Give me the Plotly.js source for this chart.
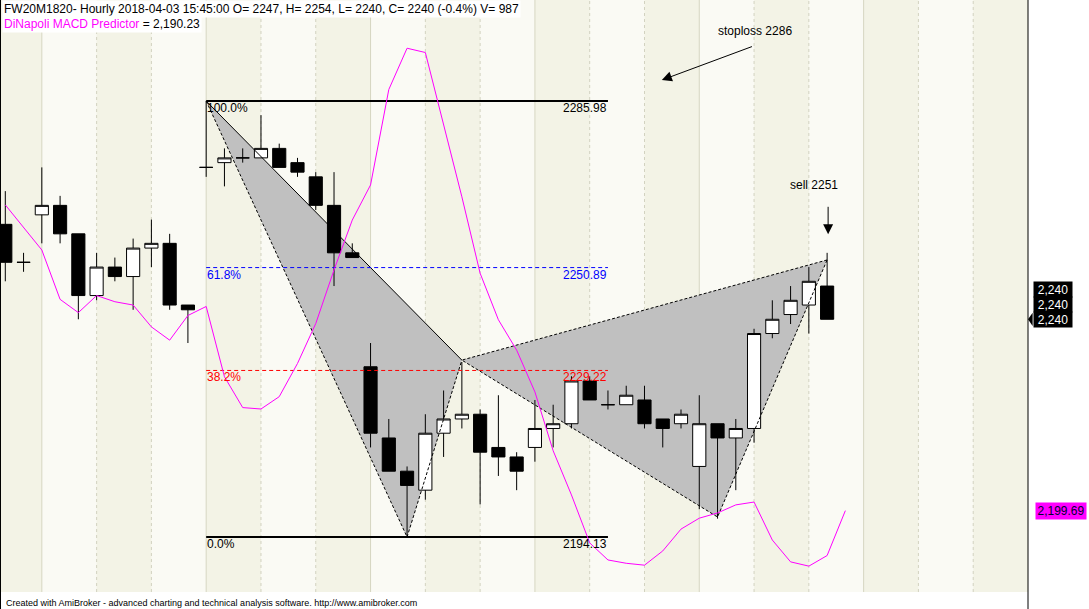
<!DOCTYPE html>
<html>
<head>
<meta charset="utf-8">
<script src="https://cdn.plot.ly/plotly-3.0.1.min.js"></script>
<style>html,body{margin:0;padding:0;background:#fff;}#chart{width:1089px;height:609px;}</style>
</head>
<body>
<div id="chart"></div>
<script>
// ---- data (hourly bars, index 0..45) ----
const opens  = [2260,2252,2262,2264,2258,2245,2251,2249,2255,2256,2243,2272,2273,2274,2274,2276,2273,2270,2264,2254,2230,2215,2208,2204,2216,2219,2220,2213,2211,2213,2217,2218,2227,2222,2222,2223,2219,2218,2209,2218,2215,2217,2237,2241,2243,2247];
const highs  = [2267,2254,2272,2266,2258,2254,2253,2257,2261,2258,2243,2286,2276,2276,2283,2277,2274,2271,2271,2256,2235,2219,2209,2220,2225,2231,2221,2224,2212,2223,2222,2228,2228,2225,2226,2226,2219,2221,2224,2218,2219,2238,2244,2247,2251,2254];
const lows   = [2248,2250,2256,2256,2240,2244,2248,2242,2251,2242,2235,2270,2268,2273,2274,2272,2270,2263,2247,2253,2213,2208,2194,2202,2211,2217,2201,2207,2204,2210,2213,2217,2223,2221,2222,2217,2213,2217,2200,2198,2204,2214,2236,2239,2237,2240];
const closes = [2252,2252,2264,2258,2245,2251,2249,2255,2256,2243,2242,2272,2274,2274,2276,2272,2271,2264,2254,2253,2216,2208,2205,2216,2219,2220,2212,2211,2208,2217,2218,2227,2223,2222,2224,2218,2217,2220,2218,2215,2217,2237,2240,2244,2248,2240];
// DiNapoli MACD Predictor (index 0..46, last point is a projection)
const predictor = [2264.1,2259.4,2254.6,2244.2,2241.4,2245.0,2243.7,2243.0,2238.4,2235.6,2240.8,2242.7,2227.9,2221.4,2221.1,2223.7,2230.7,2239.1,2250.4,2260.9,2268.3,2288.4,2297.1,2296.2,2281.3,2265.8,2249.7,2239.9,2233.5,2224.7,2212.3,2203.0,2192.9,2189.3,2188.6,2188.2,2191.2,2195.8,2198.1,2199.2,2200.9,2201.5,2193.5,2188.9,2188.0,2190.23,2199.69];
// Fibonacci retracement
const fibHigh = 2285.98, fibLow = 2194.13;
const fibLevels = [1.0, 0.618, 0.382, 0.0];
const fibLabels = ['100.0%','61.8%','38.2%','0.0%'];
const fibStartBar = 11, fibEndBar = 33;
// XABCD pattern points
const patBars   = [11, 22, 25, 39, 45];
const patPrices = [2285.98, 2194.13, 2231.4, 2198.35, 2252.5];
const lastClose = 2240;
const stoplossText = 'stoploss 2286';
const sellText = 'sell 2251';
const headerText = 'FW20M1820- Hourly 2018-04-03 15:45:00 O= 2247, H= 2254, L= 2240, C= 2240 (-0.4%) V= 987';
const predictorName = 'DiNapoli MACD Predictor';
const predictorShown = '2,190.23';

const bars = opens.map((_, i) => i);
const predBars = predictor.map((_, i) => i);
const FONT = 'Liberation Sans, Arial, sans-serif';

const traces = [];
const [X, A, B, C, D] = patBars.map((b, i) => ({x: b, y: patPrices[i]}));
// candles
traces.push({type:'candlestick', x:bars, open:opens, high:highs, low:lows, close:closes,
  increasing:{line:{color:'#000', width:1}, fillcolor:'#ffffff'},
  decreasing:{line:{color:'#000', width:1}, fillcolor:'#000000'},
  whiskerwidth:0, hoverinfo:'skip', showlegend:false});
// pattern edges
traces.push({type:'scatter', mode:'lines', x:[X.x,A.x,B.x], y:[X.y,A.y,B.y], line:{color:'#000', width:1, dash:'3px,2px'}, hoverinfo:'skip', showlegend:false});
traces.push({type:'scatter', mode:'lines', x:[X.x,B.x], y:[X.y,B.y], line:{color:'#000', width:1}, hoverinfo:'skip', showlegend:false});
traces.push({type:'scatter', mode:'lines', x:[D.x,B.x,C.x,D.x], y:[D.y,B.y,C.y,D.y], line:{color:'#000', width:1, dash:'3px,2px'}, hoverinfo:'skip', showlegend:false});
// fib lines
const fibColors = ['#000000','#0000ff','#ff0000','#000000'];
const fibPrices = fibLevels.map(l => +(fibLow + l * (fibHigh - fibLow)).toFixed(2));
fibPrices.forEach((p, i) => {
  const solid = fibLevels[i] === 0 || fibLevels[i] === 1;
  traces.push({type:'scatter', mode:'lines', x:[fibStartBar, fibEndBar], y:[p, p],
    line:{color:fibColors[i], width: solid ? 2 : 1, dash: solid ? 'solid' : '4px,3px'}, hoverinfo:'skip', showlegend:false});
});
// predictor
traces.push({type:'scatter', mode:'lines', x:predBars, y:predictor, line:{color:'#ff00ff', width:1}, hoverinfo:'skip', showlegend:false});

// background bands, pattern fills & separators
const xMin = -0.29, xMax = 56.0;
const shapes = [];
const seps = [];
for (let s = 2; s < xMax; s += 3) seps.push(s);
for (let k = 0; k < seps.length; k++) {
  const x0 = seps[k], x1 = (k + 1 < seps.length) ? seps[k+1] : xMax;
  if (k % 2 === 0) shapes.push({type:'rect', layer:'below', xref:'x', yref:'paper', x0, x1, y0:0, y1:1, fillcolor:'#fafaf4', line:{width:0}});
}
const tri = pts => 'M ' + pts.map(p => `${p.x},${p.y}`).join(' L ') + ' Z';
shapes.push({type:'path', layer:'below', xref:'x', yref:'y', path:tri([X,A,B]), fillcolor:'#c0c0c0', line:{width:0}});
shapes.push({type:'path', layer:'below', xref:'x', yref:'y', path:tri([B,C,D]), fillcolor:'#c0c0c0', line:{width:0}});
seps.forEach((s) => {
  const daily = (s - 2) % 9 === 0;
  shapes.push({type:'line', layer:'below', xref:'x', yref:'paper', x0:s, x1:s, y0:0, y1:1,
    line:{color: daily ? '#d6d6c2' : '#d2d2c0', width:1, dash: daily ? 'solid' : 'dot'}});
});
// borders
shapes.push({type:'line', xref:'paper', yref:'paper', x0:1, x1:1, y0:-0.03, y1:1, line:{color:'#000', width:1}});
shapes.push({type:'line', xref:'paper', yref:'paper', x0:0.0005, x1:0.0005, y0:-0.03, y1:1, line:{color:'#000', width:1}});
// notch of the price tag
shapes.push({type:'path', xref:'paper', yref:'y', path:`M 1.0,${lastClose} L 1.0045,${lastClose+1.4} L 1.0045,${lastClose-1.4} Z`, fillcolor:'#000', line:{width:0}});

const annotations = [];
annotations.push({xref:'paper', yref:'paper', x:0, y:1, xanchor:'left', yanchor:'top', xshift:2, showarrow:false,
  text:headerText, bgcolor:'#ffffff', borderpad:1, font:{family:FONT, size:12, color:'#000'}});
annotations.push({xref:'paper', yref:'paper', x:0, y:1, xanchor:'left', yanchor:'top', xshift:2, yshift:-15, showarrow:false,
  text:`<span style="color:#ff00ff">${predictorName}</span> = ${predictorShown}`, bgcolor:'#ffffff', borderpad:1, font:{family:FONT, size:12, color:'#000'}});
// fib labels
fibPrices.forEach((p, i) => {
  annotations.push({xref:'x', yref:'y', x:fibStartBar, y:p, xanchor:'left', yanchor:'top', showarrow:false, yshift:1,
    text:fibLabels[i], font:{family:FONT, size:12, color:fibColors[i]}, borderpad:0});
  annotations.push({xref:'x', yref:'y', x:fibEndBar, y:p, xanchor:'right', yanchor:'top', showarrow:false, yshift:1,
    text:p.toFixed(2), font:{family:FONT, size:12, color:fibColors[i]}, borderpad:0});
});
// stoploss
annotations.push({xref:'x', yref:'y', x:41.06, y:2300.7, showarrow:false, text:stoplossText, font:{family:FONT, size:12, color:'#000'}});
annotations.push({xref:'x', yref:'y', x:35.95, y:2290.4, ax:91.6, ay:-34, showarrow:true, text:'', arrowhead:2, arrowsize:2, arrowwidth:1, arrowcolor:'#000'});
// sell
annotations.push({xref:'x', yref:'y', x:44.3, y:2268.3, showarrow:false, text:sellText, font:{family:FONT, size:12, color:'#000'}});
annotations.push({xref:'x', yref:'y', x:45, y:2257.9, xshift:1, ax:0, ay:-29, showarrow:true, text:'', arrowhead:2, arrowsize:2, arrowwidth:1, arrowcolor:'#000'});
// price tags
[30, 15, 0].forEach(sh => {
  annotations.push({xref:'paper', yref:'y', x:1.0045, y:lastClose, yshift:sh, xanchor:'left', yanchor:'middle', showarrow:false,
    text:lastClose.toLocaleString('en-US'), bgcolor:'#000000', width:36, height:13, borderpad:1, font:{family:FONT, size:12, color:'#ffffff'}});
});
annotations.push({xref:'paper', yref:'y', x:1.0068, y:predictor[predictor.length-1], xanchor:'left', yanchor:'middle', showarrow:false,
  text:predictor[predictor.length-1].toLocaleString('en-US',{minimumFractionDigits:2}), bgcolor:'#ff00ff', width:48, height:14, borderpad:1, font:{family:FONT, size:12, color:'#000033'}});
// credit
annotations.push({xref:'paper', yref:'paper', x:0, y:-0.0186, xanchor:'left', yanchor:'middle', xshift:4, showarrow:false,
  text:'Created with AmiBroker - advanced charting and technical analysis software. http://www.amibroker.com', font:{family:FONT, size:9, color:'#000'}});

const layout = {
  width:1089, height:609,
  margin:{l:0, r:61, t:0, b:17, pad:0},
  paper_bgcolor:'#ffffff', plot_bgcolor:'#f3f3e6',
  showlegend:false,
  boxgap:0.28, boxgroupgap:0,
  xaxis:{range:[xMin, xMax], showgrid:false, zeroline:false, showticklabels:false, showline:false, ticks:'', rangeslider:{visible:false}, fixedrange:true},
  yaxis:{range:[2182.55, 2307.26], showgrid:false, zeroline:false, showticklabels:false, showline:false, ticks:'', fixedrange:true},
  shapes, annotations,
  font:{family:FONT}
};
Plotly.newPlot('chart', traces, layout, {displayModeBar:false, staticPlot:true});
</script>
</body>
</html>
